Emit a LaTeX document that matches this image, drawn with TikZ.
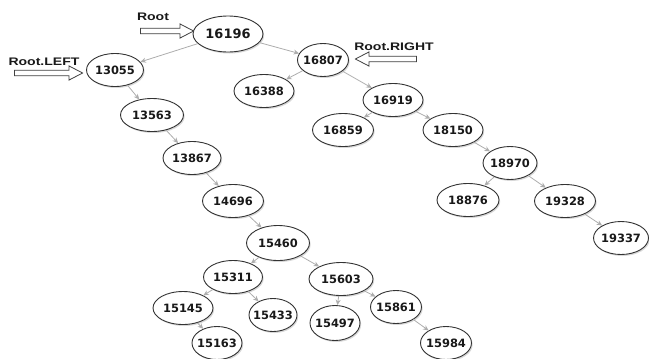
\documentclass[tikz,border=0pt]{standalone}
\usepackage{fontspec}
\usetikzlibrary{shapes.geometric,shapes.arrows,shadows,arrows.meta}
\newfontfamily\numfont{DejaVu Sans}
\newfontfamily\lblfont{Liberation Sans}
\tikzset{
  key/.style={ellipse, draw=black!80, line width=0.9bp, fill=white, inner sep=0pt,
    minimum height=33bp, minimum width=#1,
    drop shadow={shadow xshift=1.2bp, shadow yshift=-1.5bp, fill=black!30},
    font=\numfont\bfseries\fontsize{11.5}{13}\selectfont, text=black!90},
  key/.default=60bp,
  edge/.style={draw=black!32, line width=0.8bp, -{Stealth[length=5.5bp,width=5bp]}},
  ptr/.style={single arrow, draw=black!75, fill=white, line width=0.8bp, inner sep=2.3bp,
    single arrow head extend=4.4bp, single arrow tip angle=55, minimum height=#1},
  ptrlabel/.style={font=\lblfont\bfseries\fontsize{11}{13}\selectfont, text=black!90, inner sep=0pt}
}
\newcommand{\kv}[1]{\makebox[0pt]{#1}}
\begin{document}
\begin{tikzpicture}[x=1bp,y=-1bp]
\useasboundingbox (0,0) rectangle (649,358);
% nodes
\node[key=70bp, minimum height=36bp, font=\numfont\bfseries\fontsize{13}{15}\selectfont] (n16196) at (228,34) {\kv{16196}};
\node[key=57bp] (n13055) at (115,70) {\kv{13055}};
\node[key=51bp] (n16807) at (323,60) {\kv{16807}};
\node[key=60bp] (n16388) at (264,91) {\kv{16388}};
\node[key=60bp] (n16919) at (393,100) {\kv{16919}};
\node[key=61bp] (n16859) at (343,130) {\kv{16859}};
\node[key=60bp] (n18150) at (453,130) {\kv{18150}};
\node[key=54bp] (n18970) at (510,163) {\kv{18970}};
\node[key=62bp] (n18876) at (468,200) {\kv{18876}};
\node[key=61bp] (n19328) at (565,201) {\kv{19328}};
\node[key=55bp] (n19337) at (621,238) {\kv{19337}};
\node[key=63bp] (n13563) at (152,115) {\kv{13563}};
\node[key=58bp] (n13867) at (192,158) {\kv{13867}};
\node[key=61bp] (n14696) at (233,201) {\kv{14696}};
\node[key=63bp, minimum height=35bp] (n15460) at (278,243) {\kv{15460}};
\node[key=59bp] (n15311) at (233,277) {\kv{15311}};
\node[key=64bp] (n15603) at (341,279) {\kv{15603}};
\node[key=60bp] (n15145) at (183,308) {\kv{15145}};
\node[key=48bp] (n15433) at (273,315) {\kv{15433}};
\node[key=50bp, minimum height=35bp] (n15497) at (335,323) {\kv{15497}};
\node[key=51bp] (n15861) at (396,307) {\kv{15861}};
\node[key=50bp] (n15163) at (217,343) {\kv{15163}};
\node[key=51bp] (n15984) at (446,343) {\kv{15984}};
% edges
\draw[edge] (n16196) -- (n13055);
\draw[edge] (n16196) -- (n16807);
\draw[edge] (n16807) -- (n16388);
\draw[edge] (n16807) -- (n16919);
\draw[edge] (n16919) -- (n16859);
\draw[edge] (n16919) -- (n18150);
\draw[edge] (n18150) -- (n18970);
\draw[edge] (n18970) -- (n18876);
\draw[edge] (n18970) -- (n19328);
\draw[edge] (n19328) -- (n19337);
\draw[edge] (n13055) -- (n13563);
\draw[edge] (n13563) -- (n13867);
\draw[edge] (n13867) -- (n14696);
\draw[edge] (n14696) -- (n15460);
\draw[edge] (n15460) -- (n15311);
\draw[edge] (n15460) -- (n15603);
\draw[edge] (n15311) -- (n15145);
\draw[edge] (n15311) -- (n15433);
\draw[edge] (n15145) -- (n15163);
\draw[edge] (n15603) -- (n15497);
\draw[edge] (n15603) -- (n15861);
\draw[edge] (n15861) -- (n15984);
% pointers
\node[ptrlabel] (lroot) at (153,17) {\scalebox{1.28}[1]{Root}};
\node[ptr=53bp] (aroot) at (164.5,31) {};
\node[ptrlabel] (lleft) at (44,62) {\scalebox{1.28}[1]{Root.LEFT}};
\node[ptr=68bp] (aleft) at (46,73) {};
\node[ptrlabel] (lright) at (394,47) {\scalebox{1.28}[1]{Root.RIGHT}};
\node[ptr=61bp, shape border rotate=180] (aright) at (388.5,59) {};
\end{tikzpicture}
\end{document}
